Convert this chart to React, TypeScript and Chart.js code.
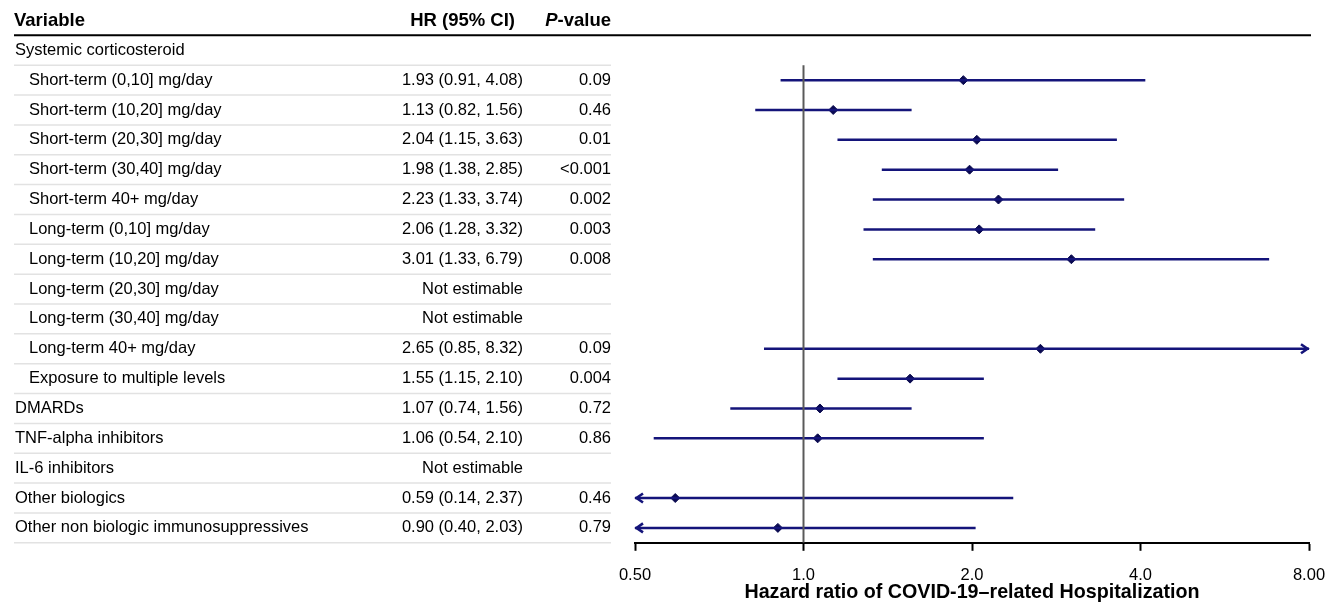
import React, { useEffect, useRef } from "react";
import { Chart, registerables } from "chart.js";

Chart.register(...registerables);

const ROW_LABELS: string[] = [
  "Systemic corticosteroid",
  "Short-term (0,10] mg/day",
  "Short-term (10,20] mg/day",
  "Short-term (20,30] mg/day",
  "Short-term (30,40] mg/day",
  "Short-term 40+ mg/day",
  "Long-term (0,10] mg/day",
  "Long-term (10,20] mg/day",
  "Long-term (20,30] mg/day",
  "Long-term (30,40] mg/day",
  "Long-term 40+ mg/day",
  "Exposure to multiple levels",
  "DMARDs",
  "TNF-alpha inhibitors",
  "IL-6 inhibitors",
  "Other biologics",
  "Other non biologic immunosuppressives",
];
const INDENTED: boolean[] = [false, true, true, true, true, true, true, true, true, true, true, true, false, false, false, false, false];
const IS_GROUP: boolean[] = [true, false, false, false, false, false, false, false, false, false, false, false, false, false, false, false, false];
const HR: (number | null)[] = [null, 1.93, 1.13, 2.04, 1.98, 2.23, 2.06, 3.01, null, null, 2.65, 1.55, 1.07, 1.06, null, 0.59, 0.9];
const LOWER: (number | null)[] = [null, 0.91, 0.82, 1.15, 1.38, 1.33, 1.28, 1.33, null, null, 0.85, 1.15, 0.74, 0.54, null, 0.14, 0.4];
const UPPER: (number | null)[] = [null, 4.08, 1.56, 3.63, 2.85, 3.74, 3.32, 6.79, null, null, 8.32, 2.1, 1.56, 2.1, null, 2.37, 2.03];
const P_TEXT: string[] = ["", "0.09", "0.46", "0.01", "<0.001", "0.002", "0.003", "0.008", "", "", "0.09", "0.004", "0.72", "0.86", "", "0.46", "0.79"];
const X_TICKS: number[] = [0.5, 1, 2, 4, 8];
const X_TICK_LABELS: string[] = ["0.50", "1.0", "2.0", "4.0", "8.00"];
const X_MIN = 0.5;
const X_MAX = 8;
const X_TITLE = "Hazard ratio of COVID-19\u2013related Hospitalization";

const FONT = '"Liberation Sans", Arial, Helvetica, sans-serif';
const NAVY = "#14147a";
const MARK = "#0a0a50";

function hrText(i: number): string {
  const h = HR[i];
  const l = LOWER[i];
  const u = UPPER[i];
  if (IS_GROUP[i]) return "";
  if (h === null || l === null || u === null) return "Not estimable";
  return `${h.toFixed(2)} (${l.toFixed(2)}, ${u.toFixed(2)})`;
}

const tablePlugin = {
  id: "forestTable",
  afterDraw(chart: any) {
    const ctx = chart.ctx as CanvasRenderingContext2D;
    const ys = chart.scales.y;
    const xs = chart.scales.x;
    ctx.save();
    // row separators
    ctx.strokeStyle = "#e2e2e2";
    ctx.lineWidth = 1.5;
    for (let i = 0; i < ROW_LABELS.length; i++) {
      const yy = ys.getPixelForValue(i + 0.5);
      ctx.beginPath();
      ctx.moveTo(14, yy);
      ctx.lineTo(611, yy);
      ctx.stroke();
    }
    // header line
    const hy = ys.getPixelForValue(-0.5);
    ctx.strokeStyle = "#000";
    ctx.lineWidth = 2;
    ctx.beginPath();
    ctx.moveTo(14, hy);
    ctx.lineTo(1311, hy);
    ctx.stroke();

    // header text
    const hty = ys.getPixelForValue(-1);
    ctx.fillStyle = "#000";
    ctx.textBaseline = "middle";
    ctx.font = `bold 18.5px ${FONT}`;
    ctx.textAlign = "left";
    ctx.fillText("Variable", 14, hty);
    ctx.textAlign = "right";
    ctx.fillText("HR (95% CI)", 515, hty);
    const tail = "-value";
    ctx.fillText(tail, 611, hty);
    const tw = ctx.measureText(tail).width;
    ctx.font = `italic bold 18.5px ${FONT}`;
    ctx.fillText("P", 611 - tw, hty);

    // rows
    ctx.font = `16.5px ${FONT}`;
    for (let i = 0; i < ROW_LABELS.length; i++) {
      const yy = ys.getPixelForValue(i);
      ctx.textAlign = "left";
      ctx.fillText(ROW_LABELS[i], INDENTED[i] ? 29 : 15, yy);
      ctx.textAlign = "right";
      ctx.fillText(hrText(i), 523, yy);
      ctx.fillText(P_TEXT[i], 611, yy);
    }

    // arrows for truncated intervals
    ctx.strokeStyle = NAVY;
    ctx.lineWidth = 2.6;
    ctx.lineJoin = "miter";
    for (let i = 0; i < ROW_LABELS.length; i++) {
      const l = LOWER[i];
      const u = UPPER[i];
      if (l === null || u === null) continue;
      const yy = ys.getPixelForValue(i);
      if (l < X_MIN) {
        const x0 = xs.getPixelForValue(X_MIN);
        ctx.beginPath();
        ctx.moveTo(x0 + 8, yy - 4.5);
        ctx.lineTo(x0 + 1.5, yy);
        ctx.lineTo(x0 + 8, yy + 4.5);
        ctx.stroke();
      }
      if (u > X_MAX) {
        const x1 = xs.getPixelForValue(X_MAX);
        ctx.beginPath();
        ctx.moveTo(x1 - 8, yy - 4.5);
        ctx.lineTo(x1 - 1.5, yy);
        ctx.lineTo(x1 - 8, yy + 4.5);
        ctx.stroke();
      }
    }
    ctx.restore();
  },
};

export default function App() {
  const ref = useRef<HTMLCanvasElement | null>(null);
  useEffect(() => {
    if (!ref.current) return;
    const datasets: any[] = [];
    // reference line at HR = 1
    datasets.push({
      data: [
        { x: 1, y: 0.5 },
        { x: 1, y: ROW_LABELS.length - 0.5 },
      ],
      showLine: true,
      borderColor: "#5a5a5a",
      borderWidth: 2,
      pointRadius: 0,
    });
    for (let i = 0; i < ROW_LABELS.length; i++) {
      const l = LOWER[i];
      const u = UPPER[i];
      if (l === null || u === null) continue;
      datasets.push({
        data: [
          { x: Math.max(l, X_MIN), y: i },
          { x: Math.min(u, X_MAX), y: i },
        ],
        showLine: true,
        borderColor: NAVY,
        borderWidth: 2.5,
        pointRadius: 0,
        clip: 4,
      });
    }
    const pts: any[] = [];
    for (let i = 0; i < ROW_LABELS.length; i++) {
      const h = HR[i];
      if (h !== null) pts.push({ x: h, y: i });
    }
    datasets.push({
      data: pts,
      showLine: false,
      pointStyle: "rectRot",
      pointRadius: 4.5,
      backgroundColor: MARK,
      borderColor: MARK,
      borderWidth: 1,
    });

    const chart = new Chart(ref.current, {
      type: "scatter",
      data: { datasets },
      options: {
        animation: false,
        responsive: true,
        maintainAspectRatio: false,
        layout: { padding: { left: 635, right: 30, top: 2, bottom: 0 } },
        plugins: { legend: { display: false }, tooltip: { enabled: false } },
        scales: {
          x: {
            type: "logarithmic",
            min: X_MIN,
            max: X_MAX,
            afterBuildTicks: (scale: any) => {
              scale.ticks = X_TICKS.map((v) => ({ value: v }));
            },
            afterFit: (scale: any) => {
              scale.paddingLeft = 0;
              scale.paddingRight = 0;
            },
            ticks: {
              autoSkip: false,
              maxRotation: 0,
              padding: 16,
              color: "#000",
              font: { family: FONT, size: 16.5, lineHeight: 1 },
              callback: (_v: any, idx: number) => X_TICK_LABELS[idx],
            },
            grid: {
              drawOnChartArea: false,
              drawTicks: true,
              tickLength: 8,
              tickWidth: 2,
              tickColor: "#000",
            },
            border: { display: true, color: "#000", width: 2 },
            title: {
              display: true,
              text: X_TITLE,
              color: "#000",
              font: { family: FONT, size: 19.7, weight: "bold", lineHeight: 1 },
              padding: { top: -17, bottom: 0 },
            },
          },
          y: {
            type: "linear",
            reverse: true,
            min: -1.5,
            max: ROW_LABELS.length - 0.5,
            display: false,
          },
        },
      },
      plugins: [tablePlugin],
    });
    return () => chart.destroy();
  }, []);
  return (
    <div style={{ position: "absolute", left: 0, top: 0, width: 1339, height: 602, background: "#fff" }}>
      <canvas ref={ref} />
    </div>
  );
}
